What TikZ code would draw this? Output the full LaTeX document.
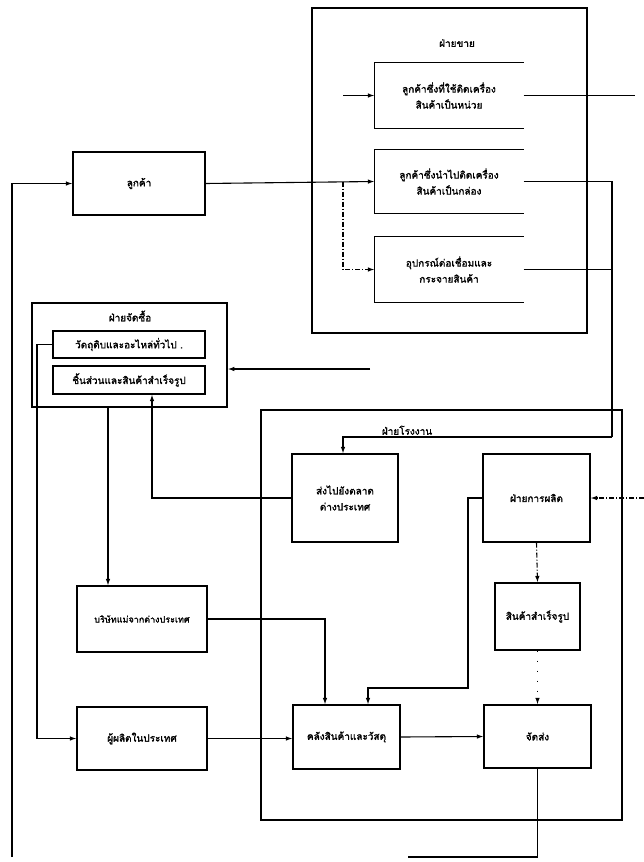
\documentclass[tikz,border=0pt]{standalone}
\usepackage{fontspec}
\newfontfamily\thaifont[Script=Thai,FakeBold=1.6]{Loma}
\usetikzlibrary{arrows.meta}
\begin{document}
\begin{tikzpicture}[x=1pt,y=-1pt,
  bx/.style={draw, line width=1.1pt, inner sep=0pt, align=center,
    font=\thaifont\fontsize{10}{16}\selectfont},
  obx/.style={bx, draw=none},
  frame/.style={draw, line width=1.6pt, inner sep=0pt},
  ttl/.style={inner sep=1pt, font=\thaifont\fontsize{10}{12}\selectfont},
  ln/.style={line width=1.1pt},
  thk/.style={line width=1.8pt},
  arr/.style={ln, -{Latex[length=6.5pt,width=4.5pt]}},
  darr/.style={arr, dash pattern=on 5pt off 2pt on 1pt off 2pt},
  dotarr/.style={arr, dash pattern=on 1pt off 9pt}]
\useasboundingbox (0,0) rectangle (644,862);
\fill[white] (0,0) rectangle (644,862);
% sales department
\node[frame, minimum width=275pt, minimum height=325pt] (sales) at (449.5,170.5) {};
\node[ttl] (salesT) at (457,43) {ฝ่ายขาย};
\node[obx, minimum width=148pt, minimum height=65pt] (b1) at (449,95.5) {ลูกค้าซึ่งที่ใช้ติดเครื่อง\\สินค้าเป็นหน่วย};
\node[obx, minimum width=148pt, minimum height=63pt] (b2) at (449,181.5) {ลูกค้าซึ่งนำไปติดเครื่อง\\สินค้าเป็นกล่อง};
\node[obx, minimum width=148pt, minimum height=65pt] (b3) at (449,269.5) {อุปกรณ์ต่อเชื่อมและ\\กระจายสินค้า};
\foreach \b in {b1,b2,b3}
  \draw[ln] (\b.north east) -- (\b.north west) -- (\b.south west) -- (\b.south east);
% customer
\node[bx, minimum width=132pt, minimum height=63pt] (cust) at (139,183.5) {ลูกค้า};
% purchasing
\node[frame, minimum width=195pt, minimum height=104pt] (purch) at (129.5,355) {};
\node[ttl] (purchT) at (130,316) {ฝ่ายจัดซื้อ};
\node[bx, minimum width=152pt, minimum height=27pt] (raw) at (129,344.5) {วัตถุดิบและอะไหล่ทั่วไป .};
\node[bx, minimum width=152pt, minimum height=28pt] (parts) at (129,380) {ชิ้นส่วนและสินค้าสำเร็จรูป};
% factory
\node[frame, minimum width=361pt, minimum height=410pt] (fact) at (441.5,615) {};
\node[bx, minimum width=106pt, minimum height=88pt] (exp) at (345,498) {ส่งไปยังตลาด\\ต่างประเทศ};
\node[bx, minimum width=107pt, minimum height=88pt] (prod) at (536.5,498) {ฝ่ายการผลิต};
\node[bx, minimum width=85pt, minimum height=67pt] (fin) at (537.5,616.5) {สินค้าสำเร็จรูป};
\node[bx, minimum width=107pt, minimum height=64pt] (store) at (346.5,737) {คลังสินค้าและวัสดุ};
\node[bx, minimum width=107pt, minimum height=63pt] (ship) at (537.5,736.5) {จัดส่ง};
% suppliers
\node[bx, minimum width=130pt, minimum height=66pt, font=\thaifont\fontsize{9}{12}\selectfont] (parent) at (142,619) {บริษัทแม่จากต่างประเทศ};
\node[bx, minimum width=130pt, minimum height=63pt] (local) at (142,738.5) {ผู้ผลิตในประเทศ};
% free ends
\coordinate (c1in) at (343,95.5);
\coordinate (c1out) at (635,95.5);
\coordinate (v2) at (612,181.5);
\coordinate (v3) at (612,269.5);
\coordinate (fl) at (612,437);
\coordinate (purIn) at (370,369);
\coordinate (prodIn) at (644,498);
\coordinate (botR) at (408,857);
\coordinate (botL) at (12,857);
% connectors: sales
\draw[arr] (c1in) -- (b1.west);
\draw[thk] (b1.east) -- (c1out);
\draw[arr] (cust.east) -- (b2.west);
\draw[darr] (343,181.5) |- (b3.west);
\draw[ln] (b2.east) -- (v2) -- (fl);
\draw[ln] (b3.east) -- (v3);
\draw[arr] (fl) -| (exp.north -| 343,0);
\node[ttl, anchor=south] (factT) at (407,436) {ฝ่ายโรงงาน};
% connectors: purchasing
\draw[arr] (purIn) -- (purch.east |- purIn);
\draw[arr] (exp.west) -| (parts.south -| 152,0);
\draw[arr] (purch.south -| 108,0) -- (parent.north -| 108,0);
\draw[arr] (raw.west) -| (37,738.5) -- (local.west);
% connectors: factory
\draw[arr] (parent.east) -| (store.north -| 325,0);
\draw[arr] (local.east) -- (store.west |- local.east);
\draw[arr] (prod.west) -| (468,688) -| (store.north -| 368,0);
\draw[darr] (prod.south) -- (fin.north);
\draw[dotarr] (fin.south) -- (ship.north);
\draw[arr] (store.east) -- (ship.west);
\draw[darr] (prodIn) -- (prod.east);
\draw[ln] (ship.south) |- (botR);
\draw[arr] (botL) |- (cust.west);
\end{tikzpicture}
\end{document}
